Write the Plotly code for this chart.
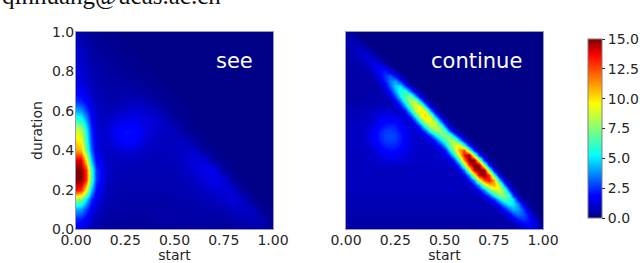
import plotly.graph_objects as go

W, H = 640, 263
header = "qinhuang@ucas.ac.cn"
panel_labels = ["see", "continue"]
x_title = "start"
y_title = "duration"
x_ticks = [0, 0.25, 0.5, 0.75, 1.0]
x_ticktext = ["0.00", "0.25", "0.50", "0.75", "1.00"]
y_ticks = [0, 0.2, 0.4, 0.6, 0.8, 1.0]
y_ticktext = ["0.0", "0.2", "0.4", "0.6", "0.8", "1.0"]
cb_ticks = [0, 2.5, 5, 7.5, 10, 12.5, 15]
cb_ticktext = ["0.0", "2.5", "5.0", "7.5", "10.0", "12.5", "15.0"]

duration = [1.0, .95, .9, .85, .8, .75, .7, .65, .6, .55, .5, .45, .4, .35, .3, .25, .2, .15, .1, .05, 0]
start_see = [0, .025, .05, .075, .1, .15, .2, .25, .3, .35, .4, .45, .5, .55, .6, .65, .7, .75, .8, .85, .9, .95, 1]

see = [
 [.6,.5,.35,.3,.25,.2,.15,.1,.1,.1,.1,.1,.1,.1,.1,.1,.1,.1,.1,.1,.1,.1,.1],
 [.8,.7,.5,.4,.35,.25,.2,.15,.1,.1,.1,.1,.1,.1,.1,.1,.1,.1,.1,.1,.1,.1,.1],
 [1,.9,.7,.5,.4,.35,.25,.2,.15,.1,.1,.1,.1,.1,.1,.1,.1,.1,.1,.1,.1,.1,.1],
 [1.1,1,.8,.6,.5,.4,.3,.25,.2,.15,.1,.1,.1,.1,.1,.1,.1,.1,.1,.1,.1,.1,.1],
 [1.2,1.1,.9,.7,.6,.45,.4,.3,.25,.2,.15,.1,.1,.1,.1,.1,.1,.1,.1,.1,.1,.1,.1],
 [1.3,1.2,1,.8,.65,.5,.45,.4,.35,.25,.2,.15,.1,.1,.1,.1,.1,.1,.1,.1,.1,.1,.1],
 [1.6,1.5,1.2,.9,.7,.55,.5,.5,.5,.4,.3,.2,.15,.1,.1,.1,.1,.1,.1,.1,.1,.1,.1],
 [2.5,2.3,1.7,1.1,.8,.6,.6,.7,.8,.7,.5,.3,.2,.15,.1,.1,.1,.1,.1,.1,.1,.1,.1],
 [4.2,3.9,2.8,1.5,.9,.7,.8,1,1.1,1,.8,.5,.25,.2,.1,.1,.1,.1,.1,.1,.1,.1,.1],
 [6.5,6,4.2,2.1,1,.9,1.2,1.5,1.5,1.2,1.1,.8,.45,.25,.15,.1,.1,.1,.1,.1,.1,.1,.1],
 [9,8.5,5.5,2.5,1.1,1,1.6,2,1.9,1.3,1,.9,.8,.4,.2,.15,.1,.1,.1,.1,.1,.1,.1],
 [10,9.5,6,2.8,1.2,1,1.4,1.9,1.8,1.1,.9,.8,.8,.8,.4,.2,.1,.1,.1,.1,.1,.1,.1],
 [11,10.6,7,3.2,1.3,.9,1,1.2,1.1,.9,.8,.8,.8,1,1,.4,.2,.1,.1,.1,.1,.1,.1],
 [14,14,10,4.5,1.8,.9,.8,.8,.8,.7,.7,.7,.8,.9,1.2,1.2,.4,.2,.1,.1,.1,.1,.1],
 [15,15,13,6.5,2.6,1,.7,.7,.7,.7,.7,.7,.7,.9,1.1,1.4,1.4,.4,.15,.1,.1,.1,.1],
 [15,15,13,6.5,2.6,.9,.7,.6,.6,.6,.6,.6,.7,.7,.9,1.2,1.4,1.2,.35,.15,.1,.1,.1],
 [13.5,13,9.5,4.5,1.9,.8,.6,.6,.6,.6,.6,.6,.6,.7,.7,.9,1.1,1.2,1.0,.3,.1,.1,.1],
 [8,7.5,5,2.6,1.3,.7,.6,.5,.5,.5,.5,.5,.6,.6,.6,.7,.8,1,1.1,.9,.25,.1,.1],
 [4.2,4,2.8,1.6,1,.6,.5,.5,.5,.5,.5,.5,.5,.5,.5,.6,.6,.7,.9,1,.8,.2,.1],
 [2.3,2.2,1.6,1,.7,.5,.4,.4,.4,.4,.5,.5,.5,.5,.5,.5,.5,.5,.6,.7,.8,.6,.15],
 [1.5,1.4,1,.7,.5,.4,.4,.4,.4,.4,.4,.4,.4,.4,.4,.4,.4,.4,.4,.5,.5,.5,.3],
]

duration_fine = [(40 - j) * 0.025 for j in range(41)]
start_fine = [i * 0.025 for i in range(41)]

# one list per row, duration 1.0 down to 0.0; what follows the listed cells is background (0.1)
cont_rows = [
 [.5,.35,.15],
 [.6,.6,.4,.15],
 [.6,.7,.7,.4,.2],
 [.55,.7,.85,.85,.5,.2],
 [.5,.6,.8,1.0,1.0,.6,.25],
 [.5,.55,.7,.9,1.1,1.1,.65,.3],
 [.5,.5,.6,.7,1.0,1.25,1.3,.8,.3],
 [.5,.5,.5,.6,.8,1.1,1.45,1.6,1.0,.4],
 [.5,.5,.5,.5,.6,.85,1.3,1.9,2.2,1.4,.6],
 [.5,.5,.5,.5,.5,.6,1.0,1.7,2.5,3.1,2,.7],
 [.5,.5,.5,.5,.5,.5,.7,1.2,2.2,3.5,4.1,2.5,.8,.2],
 [.5,.5,.5,.5,.5,.5,.5,.8,1.5,3.1,4.7,5.1,2.9,1,.25],
 [.5,.5,.5,.5,.5,.5,.6,.6,1,2.1,4.1,5.8,6.1,3.4,1.1,.3],
 [.5,.5,.5,.5,.5,.6,.6,.6,.7,1.2,2.8,5.1,6.9,7.3,4.2,1.2,.3],
 [.5,.5,.5,.6,.6,.6,.6,.6,.6,.7,1.4,3.4,5.9,8,8.5,4.6,1.3,.3],
 [.6,.6,.6,.6,.6,.6,.7,.7,.7,.7,.9,1.7,4,7,9.3,9.3,4.8,1.3,.3],
 [.7,.7,.7,.7,.8,.9,1,1.1,1.1,1.1,1,.9,1.9,4.7,8,10,9.6,4.5,1.2,.3],
 [.7,.7,.7,.8,.8,.9,1.1,1.3,1.4,1.4,1.3,1.1,1.1,2.2,5.3,8.7,10.2,8.9,4,1.1,.25],
 [.8,.8,.8,.8,.9,1,1.3,1.6,1.8,1.9,1.8,1.4,1.1,1.1,2.5,5.8,8.9,9.6,8,3.7,1,.25],
 [.8,.8,.8,.9,1,1.2,1.5,1.9,2.2,2.3,2.2,1.8,1.4,1.1,1.3,2.7,5.9,8.4,8.8,7.3,3.4,1,.25],
 [.8,.8,.9,.9,1.1,1.4,1.8,2.2,2.6,2.7,2.5,2,1.5,1.2,1,1.4,2.8,5.6,7.6,7.9,6.8,3.5,1.1,.3],
 [.8,.8,.9,.9,1.1,1.4,1.8,2.3,2.7,2.8,2.7,2.2,1.6,1.2,1,1,1.5,2.7,5.1,6.9,7.4,7.2,3.9,1.3,.4],
 [.8,.8,.9,.9,1.1,1.3,1.7,2.2,2.6,2.7,2.6,2.2,1.6,1.2,1,.9,1,1.4,2.4,4.6,6.5,7.8,8,4.6,1.6,.5],
 [.8,.8,.8,.9,1,1.2,1.5,1.9,2.3,2.4,2.3,2,1.5,1.2,1,.9,.9,1,1.3,2.2,4.5,7,8.9,9.6,5.8,1.8,.6],
 [.8,.8,.8,.9,.9,1.1,1.3,1.6,1.9,2,2,1.7,1.4,1.1,1,.9,.9,.9,1,1.2,2,4.8,8,11,12.5,6.8,2,.6],
 [.8,.8,.8,.8,.9,1,1.1,1.3,1.5,1.6,1.6,1.4,1.2,1,1,.9,.9,.9,.9,1,1.2,2.2,5.4,9.5,13.5,15,8,2.2,.6],
 [.8,.8,.8,.8,.9,.9,1,1.1,1.2,1.3,1.3,1.2,1.1,1,.9,.9,.9,.9,.9,.9,1,1.1,2.4,6.2,11.5,15,15,8.5,2.2,.5],
 [.8,.8,.8,.8,.9,.9,.9,.9,.9,.9,.9,.9,.9,.9,.9,.9,.9,.9,.9,.9,.9,.9,1.1,2.8,7.5,13,15,15,8,1.8,.45],
 [.8]*23 + [1.3,3.4,8.5,14,15,15,7,1.5,.35],
 [.8]*24 + [1.6,3.8,9,14,15,13,6,1.3,.3],
 [.8]*25 + [1.8,4,9,12.5,13.5,11,4.8,1.1,.3],
 [.8]*26 + [2,3.9,7.8,10.4,10.8,8.8,3.8,.9,.25],
 [.8]*27 + [2,3.5,6.5,8.8,9,7.2,3,.7,.2],
 [.7]*28 + [1.8,3,5.6,7.6,7.7,5.9,2.4,.5,.15],
 [.7]*29 + [1.5,2.5,4.9,6.5,6.3,4.7,1.8,.4,.15],
 [.7]*30 + [1.3,2.2,4.1,5.3,5,3.7,1.4,.3,.1],
 [.6]*31 + [1.1,1.9,3.4,4.3,4,2.8,1,.2,.1],
 [.6]*32 + [1,1.6,2.8,3.4,3,2,.7,.1,.1],
 [.5]*33 + [.8,1.3,2.2,2.6,2.2,1.4,.4,.1],
 [.5]*34 + [.7,1,1.7,1.9,1.5,.8,.2],
 [.5]*35 + [.5,.8,1.2,1.3,.9,.4],
]
cont = [r + [.1] * (41 - len(r)) for r in cont_rows]

jet = [[0, "#00007f"], [.11, "#0000ff"], [.125, "#0000ff"], [.35, "#00ffff"], [.375, "#16ffe1"],
       [.64, "#ffff00"], [.66, "#ffea00"], [.89, "#ff1300"], [.91, "#ff0000"], [1, "#7f0000"]]

TXT = "#262626"
FONT = "DejaVu Sans"
EDGE = "#9a9ab0"

fig = go.Figure()
fig.add_trace(go.Heatmap(x=start_see, y=duration, z=see, coloraxis="coloraxis", zsmooth="best", xaxis="x", yaxis="y"))
fig.add_trace(go.Heatmap(x=start_fine, y=duration_fine, z=cont, coloraxis="coloraxis", zsmooth="best", xaxis="x2", yaxis="y2"))

ax = dict(range=[0, 1], showgrid=False, zeroline=False, showline=True, linecolor=EDGE, linewidth=1, mirror=True,
          ticks="", tickfont=dict(family=FONT, size=14, color=TXT), tickmode="array", fixedrange=True)
xtitle = dict(text=x_title, font=dict(family=FONT, size=14, color=TXT), standoff=5)

fig.update_layout(
    width=W, height=H, margin=dict(l=0, r=0, t=0, b=0, autoexpand=False), paper_bgcolor="white", plot_bgcolor="white",
    xaxis=dict(domain=[76/W, 273/W], tickvals=x_ticks, ticktext=x_ticktext, title=xtitle, anchor="y", ticklabelstandoff=-2, **ax),
    yaxis=dict(domain=[1-229/H, 1-32/H], tickvals=y_ticks, ticktext=y_ticktext, anchor="x", ticklabelstandoff=-2,
               title=dict(text=y_title, font=dict(family=FONT, size=14, color=TXT), standoff=6), **ax),
    xaxis2=dict(domain=[346/W, 543/W], tickvals=x_ticks, ticktext=x_ticktext, title=xtitle, anchor="y2", ticklabelstandoff=-2, **ax),
    yaxis2=dict(domain=[1-229/H, 1-32/H], tickvals=y_ticks, showticklabels=False, anchor="x2",
                **{k: v for k, v in ax.items() if k not in ("tickfont",)}),
    coloraxis=dict(cmin=0, cmax=15, colorscale=jet, colorbar=dict(
        x=588/W, xanchor="left", xpad=0, ypad=0, y=(H-218)/H, yanchor="bottom",
        thickness=14, thicknessmode="pixels", len=179, lenmode="pixels",
        outlinecolor="#808080", outlinewidth=1, ticks="outside", ticklen=3, tickcolor=TXT,
        tickmode="array", tickvals=cb_ticks, ticktext=cb_ticktext,
        tickfont=dict(family=FONT, size=14, color=TXT))),
    annotations=[
        dict(text=header, xref="paper", yref="paper", x=0, y=1-12/H, xanchor="left", yanchor="bottom",
             showarrow=False, font=dict(family="Liberation Serif", size=25, color="#111")),
        dict(text=panel_labels[0], xref="paper", yref="paper", x=234.5/W, y=1-61/H, xanchor="center", yanchor="middle",
             showarrow=False, font=dict(family=FONT, size=21, color="white")),
        dict(text=panel_labels[1], xref="paper", yref="paper", x=476.7/W, y=1-61/H, xanchor="center", yanchor="middle",
             showarrow=False, font=dict(family=FONT, size=21, color="white")),
    ],
)
fig.write_html("out.html", config=dict(displayModeBar=False),
               post_script="document.body.style.margin='0';document.documentElement.style.overflow='hidden';")
